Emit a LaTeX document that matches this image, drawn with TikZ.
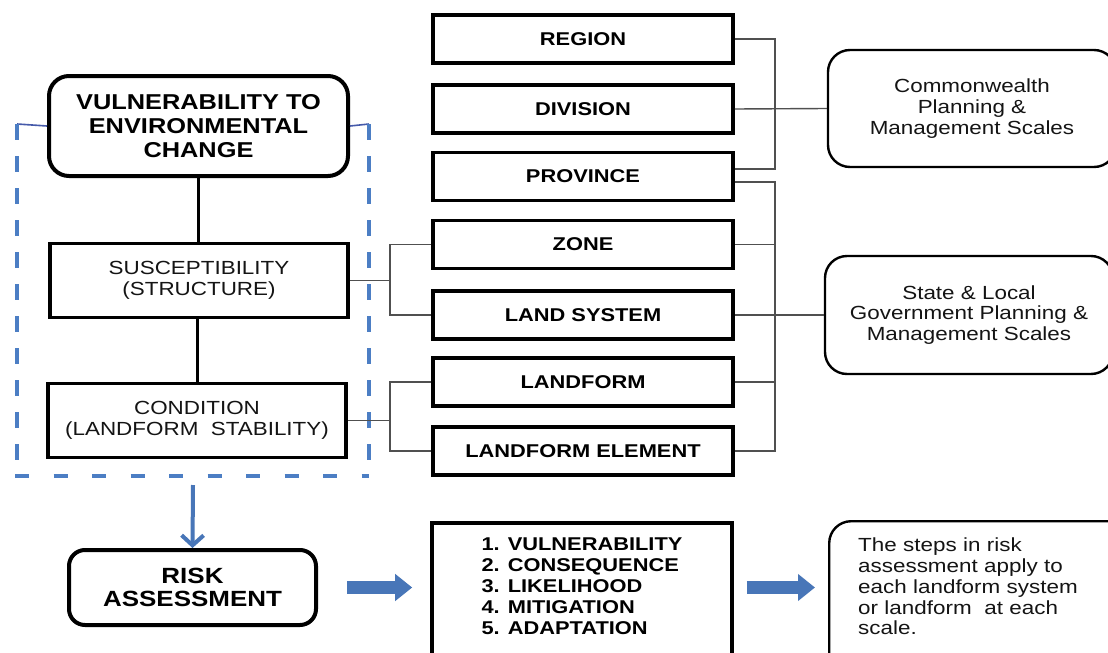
\documentclass[tikz,border=0pt]{standalone}
\usepackage{fontspec}
\setmainfont{Liberation Sans}[FakeStretch=1.18]
\usetikzlibrary{arrows.meta}
\definecolor{dashblue}{RGB}{76,126,196}
\definecolor{rimblue}{RGB}{70,90,170}
\definecolor{arrowblue}{RGB}{72,118,184}
\definecolor{linkgray}{RGB}{80,80,80}
\definecolor{softtext}{RGB}{20,20,20}
\begin{document}
\begin{tikzpicture}[x=1pt,y=-1pt,
  thickbox/.style={draw, line width=3.6pt, inner sep=0pt, align=center},
  scalebox/.style={thickbox, minimum width=300pt, minimum height=48pt,
    font=\bfseries\fontsize{18.5}{20}\selectfont},
  levelbox/.style={thickbox, minimum width=298pt, minimum height=74pt,
    font=\fontsize{19}{21}\selectfont, text=softtext},
  headbox/.style={draw, line width=4pt, rounded corners=20pt, inner sep=0pt, align=center},
  notebox/.style={draw, line width=2.4pt, rounded corners=22pt, inner sep=0pt,
    align=center, font=\fontsize{19}{20.7}\selectfont, text=softtext},
  link/.style={draw=linkgray, line width=1.4pt},
  rim/.style={draw=rimblue, line width=1.6pt},
  dashv/.style={draw=dashblue, line width=4.5pt, dash pattern=on 15.5pt off 16.5pt},
  dashh/.style={draw=dashblue, line width=4.5pt, dash pattern=on 14pt off 24.5pt},
  downarrow/.style={draw=arrowblue, line width=4pt, -{Straight Barb[length=10pt,width=22pt]}},
  blockarrow/.style={draw=arrowblue, line width=13pt, -{Triangle[length=17pt,width=26pt]}}
]
\clip (0,0) rectangle (1108,653);
\fill[white] (0,0) rectangle (1108,653);

% ---- left column: vulnerability hierarchy
\node[headbox, minimum width=299pt, minimum height=100pt,
  font=\bfseries\fontsize{21.5}{24}\selectfont] (vuln) at (198.5,126)
  {VULNERABILITY TO\\ENVIRONMENTAL\\CHANGE};
\node[levelbox] (susc) at (199,280.5) {SUSCEPTIBILITY\\(STRUCTURE)};
\node[levelbox] (cond) at (197,420.5) {CONDITION\\(LANDFORM\ \ STABILITY)};
\node[headbox, rounded corners=16pt, minimum width=247pt, minimum height=75pt,
  font=\bfseries\fontsize{22}{23}\selectfont] (risk) at (192.5,587.5)
  {RISK\\ASSESSMENT};

\draw[line width=3pt] (vuln.south) -- (vuln.south |- susc.north);
\draw[line width=3pt] (cond.north |- susc.south) -- (cond.north);

% ---- dashed frame round the assessment basis
\coordinate (dTL) at (17,124);
\coordinate (dTR) at (369,124);
\coordinate (dBL) at (17,476);
\coordinate (dBR) at (369,476);
\coordinate (dfoot) at (193,485);
\draw[rim] (vuln.west) -- (dTL);
\draw[rim] (vuln.east) -- (dTR);
\draw[dashv] (dTL) -- (dBL);
\draw[dashv] (dTR) -- (dBR);
\draw[dashh] ([xshift=-2pt]dBL) -- (dBR);
\draw[downarrow] (dfoot) -- (risk.north);

% ---- scale boxes
\node[scalebox] (region)   at (583,39)    {REGION};
\node[scalebox] (division) at (583,109)   {DIVISION};
\node[scalebox] (province) at (583,176.5) {PROVINCE};
\node[scalebox] (zone)     at (583,244.5) {ZONE};
\node[scalebox] (lsys)     at (583,315)   {LAND SYSTEM};
\node[scalebox] (lform)    at (583,382)   {LANDFORM};
\node[scalebox] (lelem)    at (583,451)   {LANDFORM ELEMENT};

% ---- planning scale notes
\node[notebox, minimum width=288pt, minimum height=117pt] (common) at (972,108.5)
  {Commonwealth\\Planning \&\\Management Scales};
\node[notebox, minimum width=288pt, minimum height=118pt] (state) at (969,315)
  {State \& Local\\Government Planning \&\\Management Scales};

% ---- brackets
\coordinate (busR) at (775,0);
\coordinate (busL) at (390,0);
\coordinate (provA) at ([yshift=7.5pt]province.east);
\coordinate (provB) at ([yshift=-5.5pt]province.east);
\draw[link] (region.east) -- (region.east -| busR) -- (provA -| busR) -- (provA);
\draw[link] (division.east) -- (common.west);
\draw[link] (provB) -- (provB -| busR) -- (lelem.east -| busR) -- (lelem.east);
\draw[link] (zone.east) -- (zone.east -| busR);
\draw[link] (lform.east) -- (lform.east -| busR);
\draw[link] (lsys.east) -- (state.west);

\draw[link] (zone.west) -- (zone.west -| busL) -- (lsys.west -| busL) -- (lsys.west);
\draw[link] (susc.east) -- (susc.east -| busL);
\draw[link] (lform.west) -- (lform.west -| busL) -- (lelem.west -| busL) -- (lelem.west);
\draw[link] (cond.east) -- (cond.east -| busL);

% ---- risk assessment steps
\node[thickbox, anchor=north, minimum width=300pt, inner ysep=15pt, align=left,
  text depth=110pt, font=\bfseries\fontsize{18.5}{21}\selectfont] (steps) at (582,521)
  {1. VULNERABILITY\\2. CONSEQUENCE\\3. LIKELIHOOD\\4. MITIGATION\\5. ADAPTATION};
\node[notebox, anchor=north west, inner xsep=29pt, inner ysep=17pt, align=left,
  text width=250pt, text depth=110pt] (apply) at (828,520)
  {The steps in risk\\assessment apply to\\each landform system\\or landform\ \ at each\\scale.};

\draw[blockarrow] ([xshift=29pt]risk.east) -- ([xshift=-18pt]steps.west |- risk.east);
\draw[blockarrow] ([xshift=13pt]steps.east |- risk.east) -- ([xshift=-13pt]apply.west |- risk.east);
\end{tikzpicture}
\end{document}
